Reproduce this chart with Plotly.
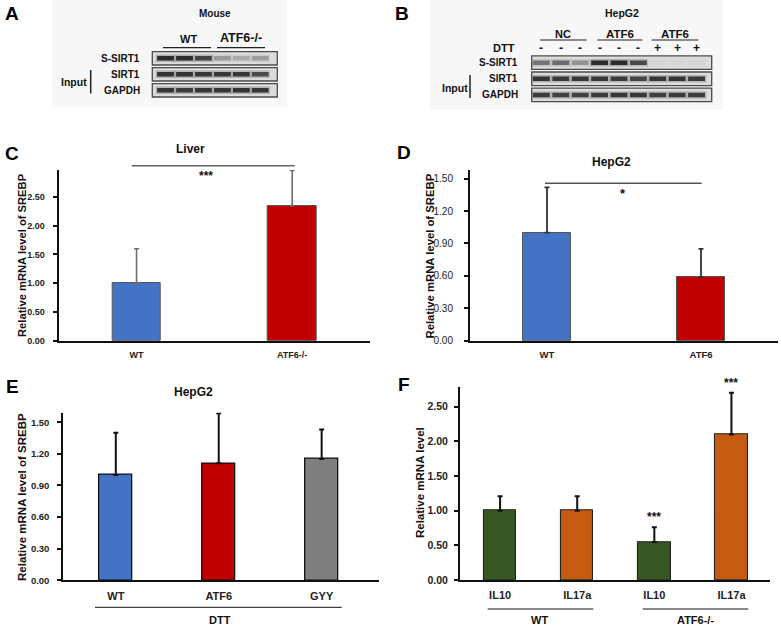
import plotly.graph_objects as go

W, H = 781, 626
def px(x): return x / W
def py(y): return 1 - y / H

FONT = "Liberation Sans, Arial, sans-serif"

# ---------------- data ----------------
# Panel A (western blot, mouse): band intensities per lane (0..1)
a_lanes = [1, 2, 3, 4, 5, 6]
a_rows = ["S-SIRT1", "SIRT1", "GAPDH"]
a_s_sirt1 = [0.95, 0.95, 0.80, 0.30, 0.22, 0.28]
a_sirt1 = [0.90, 0.90, 0.88, 0.88, 0.88, 0.75]
a_gapdh = [0.88, 0.85, 0.88, 0.88, 0.90, 0.88]

# Panel B (western blot, HepG2)
b_lanes = [1, 2, 3, 4, 5, 6, 7, 8, 9]
b_rows = ["S-SIRT1", "SIRT1", "GAPDH"]
b_dtt = ["-", "-", "-", "-", "-", "-", "+", "+", "+"]
b_s_sirt1 = [0.50, 0.55, 0.35, 0.95, 0.95, 0.75, 0.03, 0.02, 0.03]
b_sirt1 = [0.90, 0.85, 0.88, 0.88, 0.85, 0.78, 0.88, 0.90, 0.85]
b_gapdh = [0.85, 0.82, 0.82, 0.85, 0.88, 0.88, 0.82, 0.85, 0.85]

# Panel C (Liver)
c_labels = ["WT", "ATF6-/-"]
c_vals = [1.00, 2.35]
c_err_top = [1.60, 2.96]
c_colors = ["#4472C4", "#C00000"]

# Panel D (HepG2)
d_labels = ["WT", "ATF6"]
d_vals = [1.00, 0.59]
d_err_top = [1.42, 0.85]
d_colors = ["#4472C4", "#C00000"]

# Panel E (HepG2, DTT)
e_labels = ["WT", "ATF6", "GYY"]
e_vals = [1.00, 1.11, 1.15]
e_err_top = [1.40, 1.585, 1.43]
e_colors = ["#4472C4", "#C00000", "#7F7F7F"]

# Panel F
f_labels = ["IL10", "IL17a", "IL10", "IL17a"]
f_groups = ["WT", "WT", "ATF6-/-", "ATF6-/-"]
f_vals = [1.00, 1.00, 0.55, 2.10]
f_err_top = [1.21, 1.21, 0.76, 2.70]
f_colors = ["#375623", "#C55A11", "#375623", "#C55A11"]
f_sig = ["", "", "***", "***"]

fig = go.Figure()

def bar(xa, ya, vals, tops, colors, width, lcolor, lwidth, ecolor, ethick):
    xs = list(range(len(vals)))
    fig.add_trace(go.Bar(
        x=xs, y=vals, width=width, xaxis=xa, yaxis=ya,
        marker=dict(color=colors, line=dict(color=lcolor, width=lwidth)),
        error_y=dict(type="data", symmetric=False,
                     array=[t - v for t, v in zip(tops, vals)],
                     arrayminus=[0] * len(vals),
                     color=ecolor, thickness=ethick, width=2.5),
        showlegend=False, hoverinfo="skip"))

bar("x", "y", c_vals, c_err_top, c_colors, 0.31, "#555555", 1, "#6f6f6f", 1.6)
bar("x2", "y2", d_vals, d_err_top, d_colors, 0.314, "#555555", 1, "#333333", 1.8)
bar("x3", "y3", e_vals, e_err_top, e_colors, 0.32, "#111111", 1.3, "#111111", 2)
bar("x4", "y4", f_vals, f_err_top, f_colors, 0.42, "#222222", 1.1, "#111111", 2)

# blot bands
def bands(xa, ya, lanes, rows_data, size, thick):
    for ri, row in enumerate(rows_data):
        fig.add_trace(go.Scatter(
            x=lanes, y=[ri] * len(lanes), xaxis=xa, yaxis=ya, mode="markers",
            marker=dict(symbol="line-ew", size=size + 2,
                        line=dict(width=thick + 3,
                                  color=[f"rgba(60,60,60,{0.3 * v:.3f})" for v in row])),
            showlegend=False, hoverinfo="skip"))
        fig.add_trace(go.Scatter(
            x=lanes, y=[ri] * len(lanes), xaxis=xa, yaxis=ya, mode="markers",
            marker=dict(symbol="line-ew", size=size,
                        line=dict(width=thick,
                                  color=[f"rgba(25,25,25,{0.92 * v:.3f})" for v in row])),
            showlegend=False, hoverinfo="skip"))

bands("x5", "y5", a_lanes, [a_s_sirt1, a_sirt1, a_gapdh], 12, 4.5)
bands("x6", "y6", b_lanes, [b_s_sirt1, b_sirt1, b_gapdh], 12, 4.5)

def xaxis(dom, rng, tickvals, ticktext, size):
    return dict(domain=[px(dom[0]), px(dom[1])], range=rng, showline=True,
                linecolor="#111111", linewidth=2, ticks="", showgrid=False,
                zeroline=False, tickvals=tickvals, ticktext=ticktext,
                ticklabelstandoff=4, automargin=False,
                tickfont=dict(family=FONT, size=size, color="#222222", weight="bold"))

def yaxis(dom, top, dtick, size, weight="bold", standoff=5):
    return dict(domain=[py(dom[1]), py(dom[0])], range=[0, top], showline=True,
                linecolor="#111111", linewidth=2, ticks="outside", ticklen=4,
                tickwidth=1.5, tickcolor="#111111", dtick=dtick, tick0=0,
                tickformat=".2f", showgrid=False, zeroline=False,
                ticklabelstandoff=standoff, automargin=False,
                tickfont=dict(family=FONT, size=size, color="#222222", weight=weight))

hidden = dict(visible=False, showgrid=False, zeroline=False, automargin=False)

fig.update_layout(
    width=W, height=H, margin=dict(l=0, r=0, t=0, b=0, autoexpand=False),
    paper_bgcolor="white", plot_bgcolor="rgba(0,0,0,0)",
    bargap=0.0,
    xaxis=dict(xaxis((58.7, 370), [-0.5, 1.5], [0, 1], c_labels, 9), anchor="y"),
    yaxis=dict(yaxis((170, 340.7), 2.97, 0.5, 9, standoff=6), anchor="x"),
    xaxis2=dict(xaxis((470, 778), [-0.5, 1.5], [0, 1], d_labels, 9.5), anchor="y2"),
    yaxis2=dict(yaxis((170, 340.7), 1.58, 0.3, 10, weight="normal", standoff=9), anchor="x2"),
    xaxis3=dict(xaxis((63.3, 379.3), [-0.51, 2.56], [0, 1, 2], e_labels, 11), anchor="y3"),
    yaxis3=dict(yaxis((412.7, 580.3), 1.59, 0.3, 9.5, standoff=6), anchor="x3"),
    xaxis4=dict(xaxis((460, 770), [-0.52, 3.5], [0, 1, 2, 3], f_labels, 11), anchor="y4"),
    yaxis4=dict(yaxis((387.3, 580), 2.78, 0.5, 10.5, standoff=4), anchor="x4"),
    xaxis5=dict(hidden, domain=[px(152.3), px(277.3)], range=[0.3, 6.9], anchor="y5"),
    yaxis5=dict(hidden, domain=[py(98.3), py(50.3)], range=[2.5, -0.5], anchor="x5"),
    xaxis6=dict(hidden, domain=[px(531.7), px(711.7)], range=[0.5, 9.78], anchor="y6"),
    yaxis6=dict(hidden, domain=[py(103), py(54.6)], range=[2.5, -0.5], anchor="x6"),
)

shapes = []
# faint backgrounds of blot images
shapes.append(dict(type="rect", xref="paper", yref="paper", x0=px(52), x1=px(287),
                   y0=py(107), y1=py(0), fillcolor="#f7f7f7", line=dict(width=0), layer="below"))
shapes.append(dict(type="rect", xref="paper", yref="paper", x0=px(430), x1=px(723),
                   y0=py(110), y1=py(0), fillcolor="#f7f7f7", line=dict(width=0), layer="below"))
# blot boxes
for xa, ya, nrows in (("x5", "y5", len(a_rows)), ("x6", "y6", len(b_rows))):
    for ri in range(nrows):
        shapes.append(dict(type="rect", xref=f"{xa} domain", yref=ya, x0=0, x1=1,
                           y0=ri - 0.42, y1=ri + 0.42, fillcolor="#dcdcdc",
                           line=dict(color="#4a4a4a", width=1.3), layer="below"))

def hline(x0, x1, y, color="#222222", width=1.2):
    shapes.append(dict(type="line", xref="paper", yref="paper", x0=px(x0), x1=px(x1),
                       y0=py(y), y1=py(y), line=dict(color=color, width=width)))

def vline(x, y0, y1, color="#222222", width=1.2):
    shapes.append(dict(type="line", xref="paper", yref="paper", x0=px(x), x1=px(x),
                       y0=py(y0), y1=py(y1), line=dict(color=color, width=width)))

# A group lines / input bracket
hline(163, 211, 47.7)
hline(217, 265, 47.7)
vline(90.7, 70, 93.5, width=1.5)
# B group lines / input bracket
hline(540, 586.7, 40)
hline(597.3, 642.3, 40)
hline(651.7, 698.3, 40)
vline(470, 75, 98, width=1.5)
# significance lines
hline(131.7, 294.7, 165.7, color="#666666", width=1.5)
hline(545, 701.7, 183.3, color="#555555", width=1.5)
# E / F group lines
hline(95, 341.7, 607.3, color="#111111", width=1)
hline(487.7, 593.3, 609, color="#111111", width=1)
hline(642.7, 748.3, 609, color="#111111", width=1)
fig.update_layout(shapes=shapes)

ann = []
def text(t, x, y, size, bold=True, xanchor="center", angle=0, color="#111111"):
    ann.append(dict(text=t, x=px(x), y=py(y), xref="paper", yref="paper",
                    showarrow=False, xanchor=xanchor, yanchor="middle", textangle=angle,
                    font=dict(family=FONT, size=size, color=color,
                              weight="bold" if bold else "normal")))

# panel letters
for t, x, y in (("A", 12, 14), ("B", 402, 14), ("C", 12, 153), ("D", 404, 152),
                ("E", 12, 386), ("F", 404, 384)):
    text(t, x, y, 19, xanchor="center", color="#000000")

# Panel A texts
text("Mouse", 215, 13.3, 10)
text("WT", 188, 39, 11)
text("ATF6-/-", 241, 38, 12.5)
for ri, lab in enumerate(a_rows):
    text(lab, 142, 58.3 + 16 * ri, 10, xanchor="right")
text("Input", 74, 81.7, 10.5)

# Panel B texts
text("HepG2", 621.7, 13.3, 10.5)
text("NC", 563, 34.3, 11)
text("ATF6", 619.7, 34.3, 11.5)
text("ATF6", 675, 34.3, 11.5)
text("DTT", 517, 48.3, 11, xanchor="right")
for ri, lab in enumerate(b_rows):
    text(lab, 520, 62.6 + 16.1 * ri, 10, xanchor="right")
text("Input", 455, 87.7, 10.5)
for i, s in enumerate(b_dtt):
    ann.append(dict(text=s, x=b_lanes[i], y=py(48.3), xref="x6", yref="paper",
                    showarrow=False, yanchor="middle",
                    font=dict(family=FONT, size=12, color="#111111", weight="bold")))

# Panel titles
text("Liver", 190, 149, 12)
text("HepG2", 611, 161.7, 12)
text("HepG2", 193, 391.7, 12)
text("***", 206, 176, 12)
text("*", 623, 193.5, 13)

# y-axis titles
text("Relative mRNA level of SREBP", 21.5, 255.5, 11.2, angle=-90)
text("Relative mRNA level of SREBP", 429, 256.5, 11.3, angle=-90)
text("Relative mRNA level of SREBP", 21.5, 497.5, 11.5, angle=-90)
text("Relative mRNA level", 420, 483, 11.5, angle=-90)

# group labels under E and F
text("DTT", 220, 619.5, 11)
text("WT", 539.3, 620, 11)
text("ATF6-/-", 695, 620, 11)

# F significance stars above error bars
for i, s in enumerate(f_sig):
    if s:
        ann.append(dict(text=s, x=i, y=f_err_top[i], xref="x4", yref="y4",
                        showarrow=False, yanchor="bottom", yshift=1,
                        font=dict(family=FONT, size=12, color="#111111", weight="bold")))

fig.update_layout(annotations=ann)
fig.write_html("out.html", config={"displayModeBar": False},
               post_script="document.body.style.margin='0px';document.body.style.overflow='hidden';")
